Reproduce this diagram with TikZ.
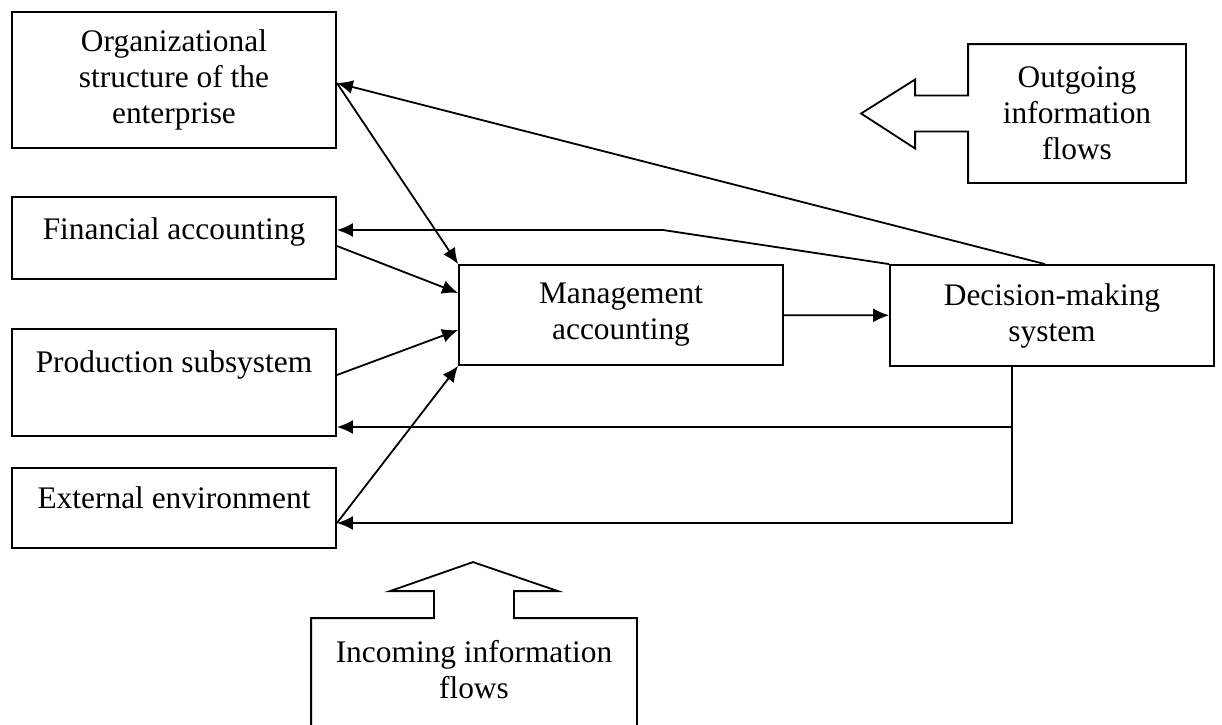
\documentclass[tikz,border=0pt]{standalone}
\usepackage{fontspec}
\setmainfont{Liberation Serif}
\usepackage{tikz}
\usetikzlibrary{arrows.meta,positioning}

\begin{document}
\begin{tikzpicture}[x=0.5pt,y=-0.5pt,line width=0.9pt,
        font=\fontsize{15.7}{18}\selectfont,
        box/.style={draw,rectangle,inner sep=0pt,align=center},
        txt/.style={inner sep=0pt,align=center},
        arr/.style={-{Latex[length=8pt,width=7pt]}}]
      \useasboundingbox (0,0) rectangle (1222,724);
      \clip (0,0) rectangle (1222,724);
      \node[box,minimum width=162pt,minimum height=68pt] (org) at (174,80)
        {Organizational\\structure of the\\enterprise};
      \node[box,minimum width=162pt,minimum height=41pt] (fin) at (174,238) {};
      \node[box,minimum width=162pt,minimum height=53.5pt] (prod) at (174,382.5) {};
      \node[box,minimum width=162pt,minimum height=40pt] (ext) at (174,508) {};
      \node[txt] (fint) [below=18pt of fin.north,anchor=center] {Financial accounting};
      \node[txt] (prodt) [below=18.5pt of prod.north,anchor=center] {Production subsystem};
      \node[txt] (extt) [below=15.5pt of ext.north,anchor=center] {External environment};
      \node[box,minimum width=162pt,minimum height=50pt] (mgmt) at (621,315)
        {Management\\accounting};
      \node[box,minimum width=162pt,minimum height=50.5pt] (dec) at (1052,315.5)
        {Decision-making\\system};
      \node[txt,minimum width=108pt,minimum height=68.5pt] (out) at (1077,113.5)
        {Outgoing\\information\\flows};
      \node[txt,minimum width=162pt,minimum height=60.5pt] (inc) at (474,679.5) {};
      \node[txt] (inct) [below=25.5pt of inc.north,anchor=center] {Incoming information\\flows};
      \draw ([yshift=9pt]out.west) -- ++(-53,0) -- ++(0,-16) -- ++(-54,34)
        -- ++(54,35) -- ++(0,-17) -- ([yshift=-9pt]out.west) -- (out.south west)
        -- (out.south east) -- (out.north east) -- (out.north west) -- cycle;
      \draw (inc.south west) -- (inc.north west) -- ([xshift=-20pt]inc.north)
        -- ++(0,-27) -- ++(-44,0) -- ++(83,-29) -- ++(85,29) -- ++(-44,0)
        -- ([xshift=20pt]inc.north) -- (inc.north east) -- (inc.south east);
      \coordinate (fbend) at (663,230);
      \coordinate (dfork) at ([xshift=-20pt]dec.south);
      \draw[arr] ([xshift=-3.5pt]dec.north) -- ([yshift=-1.5pt]org.east);
      \draw[arr] ([yshift=-1.5pt]org.east) -- (mgmt.north west);
      \draw[arr] (dec.north west) -- (fbend) -- (fbend -| fin.east);
      \draw[arr] ([yshift=-4pt]fin.east) -- ([yshift=11pt]mgmt.west);
      \draw[arr] ([yshift=3.75pt]prod.east) -- ([yshift=-7.5pt]mgmt.west);
      \draw[arr] ([yshift=-7.5pt]ext.east) -- (mgmt.south west);
      \draw[arr] (mgmt) -- (dec);
      \draw[arr] (dfork) |- ([yshift=-22.25pt]prod.east);
      \draw[arr] (dfork) |- ([yshift=-7.5pt]ext.east);
    \end{tikzpicture}
\end{document}
